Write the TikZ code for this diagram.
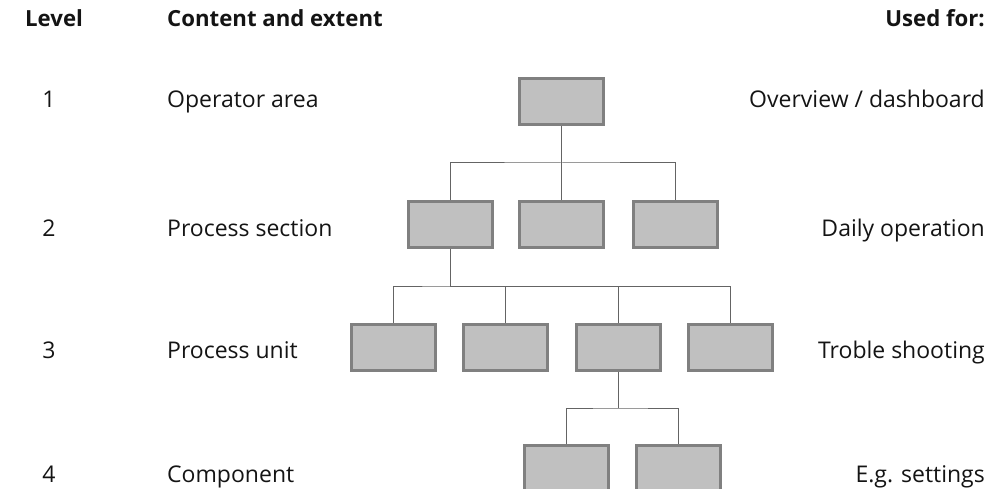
\documentclass[tikz,border=0pt]{standalone}
\usepackage{fontspec}
\setmainfont{Open Sans}
\usetikzlibrary{calc}
\definecolor{boxfill}{RGB}{192,192,192}
\definecolor{boxline}{RGB}{128,128,128}
\definecolor{linkline}{RGB}{100,100,100}
\definecolor{figtext}{RGB}{20,20,20}
\tikzset{
  blk/.style ={draw=boxline, fill=boxfill, line width=3pt, minimum width=84pt, minimum height=46pt, inner sep=0pt},
  lnk/.style ={draw=linkline, line width=1pt},
  hdr/.style ={font=\fontsize{22.2}{26}\selectfont\bfseries, text=figtext, inner sep=0pt},
  txt/.style ={font=\fontsize{23}{27}\selectfont, text=figtext, inner sep=0pt},
}
\begin{document}
\begin{tikzpicture}[x=1pt,y=-1pt]
  \useasboundingbox (0,0) rectangle (1003,489);
  \clip (0,0) rectangle (1003,489);
  % column heads
  \node[hdr,anchor=base west] (hlev) at (25,27) {Level};
  \node[hdr,anchor=base west] (hcon) at (167,27) {Content and extent};
  \node[hdr,anchor=base east] (huse) at (985,27) {Used for:};
  % level rows
  \node[txt,anchor=base] (n1) at (49,108) {1};
  \node[txt,anchor=base west] (t1) at (167,108) {Operator area};
  \node[txt,anchor=base east] (u1) at (985,108) {Overview / dashboard};
  \node[txt,anchor=base] (n2) at (49,236) {2};
  \node[txt,anchor=base west] (t2) at (167,236) {Process section};
  \node[txt,anchor=base east] (u2) at (985,236) {Daily operation};
  \node[txt,anchor=base] (n3) at (49,358) {3};
  \node[txt,anchor=base west] (t3) at (167,358) {Process unit};
  \node[txt,anchor=base east] (u3) at (985,358) {Troble shooting};
  \node[txt,anchor=base] (n4) at (49,482) {4};
  \node[txt,anchor=base west] (t4) at (167,482) {Component};
  \node[txt,anchor=base east] (u4) at (985,482) {E.g. settings};
  % boxes
  \node[blk] (area) at (561.5,101.5) {};
  \node[blk] (secA) at (450,224.5) {};
  \node[blk] (secB) at (561.5,224.5) {};
  \node[blk] (secC) at (675,224.5) {};
  \node[blk] (unitA) at (393.5,347) {};
  \node[blk] (unitB) at (505.5,347) {};
  \node[blk] (unitC) at (618.5,347) {};
  \node[blk] (unitD) at (730.5,347) {};
  \node[blk] (compA) at (566,468.5) {};
  \node[blk] (compB) at (678,468.5) {};
  % links
  \coordinate (busA) at (561.5,163);
  \coordinate (busB) at (450,286);
  \coordinate (busC) at (618.5,408);
  \draw[lnk] (area.south) -- (busA);
  \draw[lnk] (secA.north) |- (busA) -| (secC.north);
  \draw[lnk] (busA) -- (secB.north);
  \draw[lnk] (secA.south) -- (busB);
  \draw[lnk] (unitA.north) |- (busB) -| (unitD.north);
  \draw[lnk] (unitB.north) |- (busB);
  \draw[lnk] (unitC.north) |- (busB);
  \draw[lnk] (unitC.south) -- (busC);
  \draw[lnk] (compA.north) |- (busC) -| (compB.north);
\end{tikzpicture}
\end{document}
